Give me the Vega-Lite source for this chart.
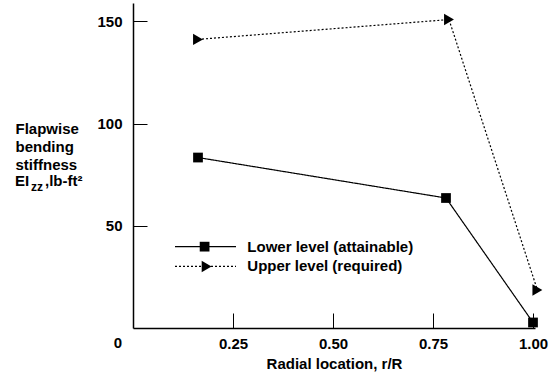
{
  "$schema": "https://vega.github.io/schema/vega-lite/v6.json",
  "width": 402,
  "height": 325,
  "autosize": {"type": "none"},
  "padding": {"left": 133, "top": 3, "right": 17, "bottom": 45},
  "background": "white",
  "config": {
    "view": {"stroke": null},
    "font": "Liberation Sans",
    "text": {"font": "Liberation Sans", "fontWeight": "bold", "fontSize": 15, "fill": "black"},
    "axis": {
      "grid": false,
      "domainColor": "black",
      "domainWidth": 1.5,
      "tickColor": "black",
      "tickWidth": 1,
      "labelFontSize": 15,
      "labelFontWeight": "bold",
      "labelColor": "black",
      "titleFontSize": 15,
      "titleFontWeight": "bold",
      "titleColor": "black",
      "labelFlush": false,
      "labelOverlap": false
    }
  },
  "datasets": {
    "main": [
      {"series": "Lower level (attainable)", "r": 0.1625, "s": 83.4},
      {"series": "Lower level (attainable)", "r": 0.7825, "s": 63.6},
      {"series": "Lower level (attainable)", "r": 1.0, "s": 2.7},
      {"series": "Upper level (required)", "r": 0.1625, "s": 141.2},
      {"series": "Upper level (required)", "r": 0.79, "s": 150.9},
      {"series": "Upper level (required)", "r": 1.011, "s": 18.6}
    ],
    "one": [{"k": 1}]
  },
  "layer": [
    {
      "data": {"name": "main"},
      "mark": {"type": "line", "color": "black", "strokeWidth": 1.2},
      "encoding": {
        "x": {
          "field": "r", "type": "quantitative",
          "scale": {"domain": [0, 1.005], "nice": false, "zero": false},
          "axis": {
            "values": [0.25, 0.5, 0.75, 1.0],
            "format": ".2f",
            "tickSize": -15,
            "labelPadding": 23,
            "title": "Radial location, r/R",
            "titlePadding": 5
          }
        },
        "y": {
          "field": "s", "type": "quantitative",
          "scale": {"domain": [0, 159], "nice": false},
          "axis": {
            "values": [50, 100, 150],
            "tickSize": -14,
            "labelPadding": 25,
            "title": ["Flapwise", "bending", "stiffness"],
            "titleAngle": 0,
            "titleAlign": "left",
            "titleBaseline": "top",
            "titleX": -118,
            "titleY": 118,
            "titleLineHeight": 18.3
          }
        },
        "strokeDash": {
          "field": "series", "type": "nominal",
          "scale": {"domain": ["Lower level (attainable)", "Upper level (required)"], "range": [[1, 0], [2, 2]]},
          "legend": null
        }
      }
    },
    {
      "data": {"name": "main"},
      "mark": {"type": "point", "filled": true, "color": "black", "opacity": 1},
      "encoding": {
        "x": {"field": "r", "type": "quantitative"},
        "y": {"field": "s", "type": "quantitative"},
        "shape": {
          "field": "series", "type": "nominal",
          "scale": {"domain": ["Lower level (attainable)", "Upper level (required)"], "range": ["square", "triangle-right"]},
          "legend": null
        },
        "size": {
          "field": "series", "type": "ordinal",
          "scale": {"domain": ["Lower level (attainable)", "Upper level (required)"], "range": [95, 130]},
          "legend": null
        }
      }
    },
    {
      "data": {"name": "one"},
      "mark": {"type": "rule", "color": "black", "strokeWidth": 1.2},
      "encoding": {
        "x": {"datum": 0.105, "type": "quantitative"},
        "x2": {"datum": 0.2575},
        "y": {"datum": 39.8, "type": "quantitative"}
      }
    },
    {
      "data": {"name": "one"},
      "mark": {"type": "rule", "color": "black", "strokeWidth": 1.2, "strokeDash": [2, 2]},
      "encoding": {
        "x": {"datum": 0.105, "type": "quantitative"},
        "x2": {"datum": 0.2575},
        "y": {"datum": 30.1, "type": "quantitative"}
      }
    },
    {
      "data": {"name": "one"},
      "mark": {"type": "point", "shape": "square", "filled": true, "color": "black", "opacity": 1, "size": 95},
      "encoding": {
        "x": {"datum": 0.179, "type": "quantitative"},
        "y": {"datum": 39.8, "type": "quantitative"}
      }
    },
    {
      "data": {"name": "one"},
      "mark": {"type": "point", "shape": "triangle-right", "filled": true, "color": "black", "opacity": 1, "size": 130},
      "encoding": {
        "x": {"datum": 0.184, "type": "quantitative"},
        "y": {"datum": 30.1, "type": "quantitative"}
      }
    },
    {
      "data": {"name": "one"},
      "mark": {"type": "text", "align": "left", "baseline": "middle"},
      "encoding": {
        "x": {"datum": 0.2858, "type": "quantitative"},
        "y": {"datum": 39.8, "type": "quantitative"},
        "text": {"value": "Lower level (attainable)"}
      }
    },
    {
      "data": {"name": "one"},
      "mark": {"type": "text", "align": "left", "baseline": "middle"},
      "encoding": {
        "x": {"datum": 0.2858, "type": "quantitative"},
        "y": {"datum": 30.1, "type": "quantitative"},
        "text": {"value": "Upper level (required)"}
      }
    },
    {
      "data": {"name": "one"},
      "mark": {"type": "text", "align": "left", "baseline": "alphabetic", "dx": -118},
      "encoding": {
        "x": {"datum": 0, "type": "quantitative"},
        "y": {"datum": 69.5, "type": "quantitative"},
        "text": {"value": "EI"}
      }
    },
    {
      "data": {"name": "one"},
      "mark": {"type": "text", "align": "left", "baseline": "alphabetic", "dx": -102, "dy": 5, "fontSize": 12},
      "encoding": {
        "x": {"datum": 0, "type": "quantitative"},
        "y": {"datum": 69.5, "type": "quantitative"},
        "text": {"value": "zz"}
      }
    },
    {
      "data": {"name": "one"},
      "mark": {"type": "text", "align": "left", "baseline": "alphabetic", "dx": -88},
      "encoding": {
        "x": {"datum": 0, "type": "quantitative"},
        "y": {"datum": 69.5, "type": "quantitative"},
        "text": {"value": ",lb-ft²"}
      }
    },
    {
      "data": {"values": [{"r": 0, "s": 0, "label": "0"}]},
      "mark": {"type": "text", "dx": -15, "dy": 15},
      "encoding": {
        "x": {"field": "r", "type": "quantitative"},
        "y": {"field": "s", "type": "quantitative"},
        "text": {"field": "label"}
      }
    }
  ]
}
